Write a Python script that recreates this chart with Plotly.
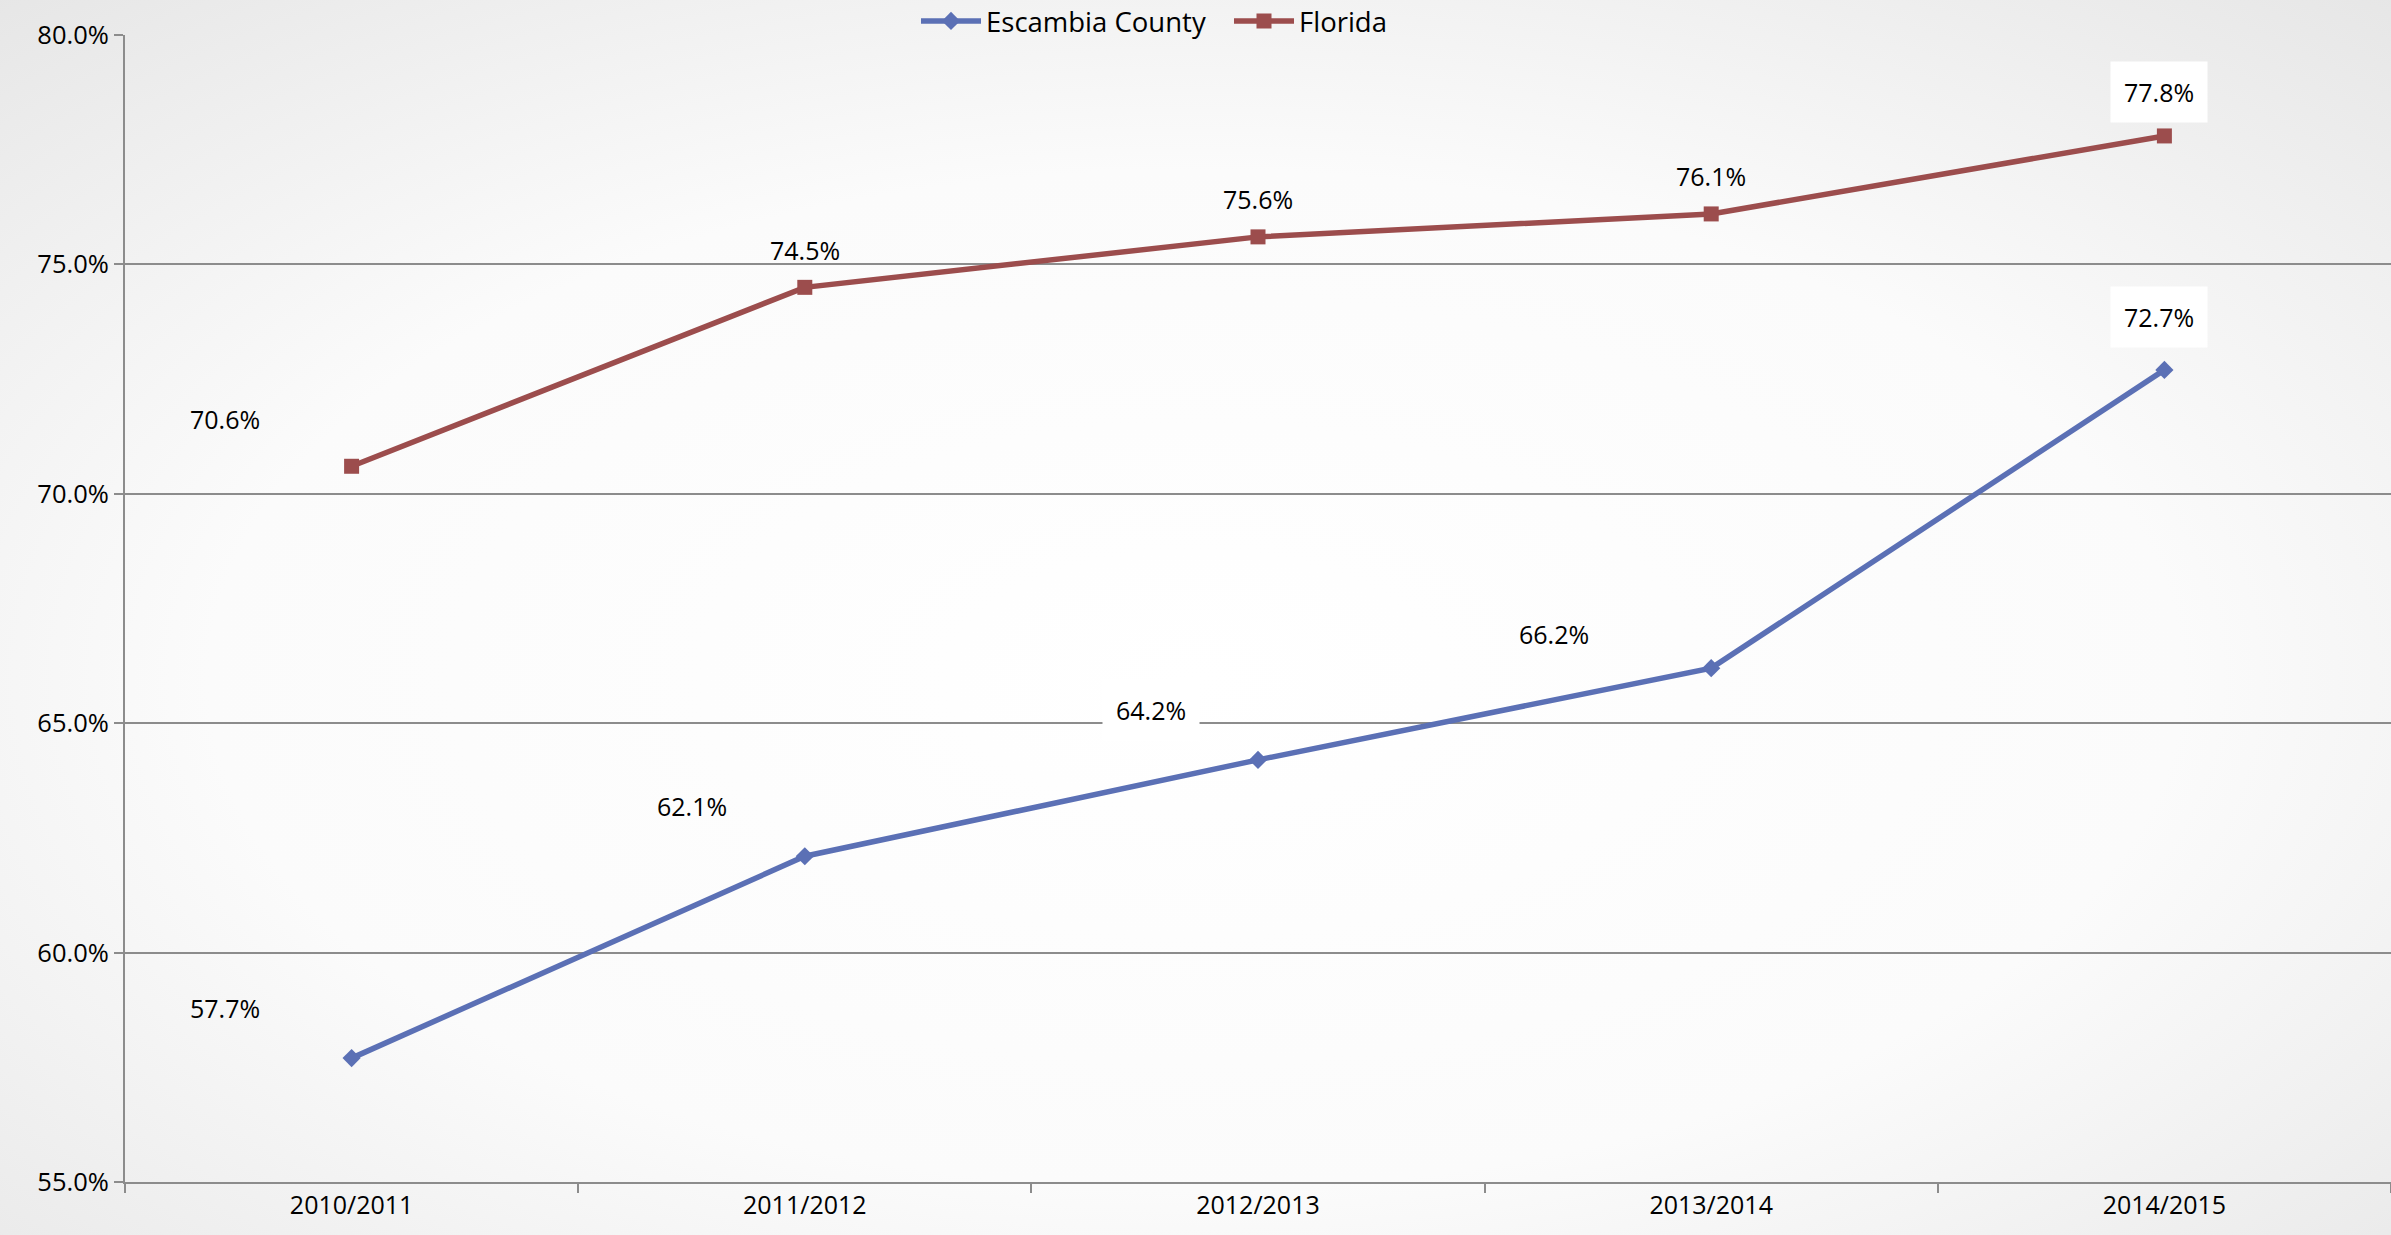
import base64
import plotly.graph_objects as go

# ---- data ----
years = ["2010/2011", "2011/2012", "2012/2013", "2013/2014", "2014/2015"]
escambia = [57.7, 62.1, 64.2, 66.2, 72.7]
florida = [70.6, 74.5, 75.6, 76.1, 77.8]
y_ticks = [55, 60, 65, 70, 75, 80]

# ---- label placement (pixels offsets) ----
esc_dx = [-127, -113, -107, -157, -5]
esc_dy = [50, 50, 50, 34, 53]
esc_box = [False, False, True, False, True]
fla_dx = [-127, 0, 0, 0, -5]
fla_dy = [47, 37, 38, 38, 44]
fla_box = [False, False, False, False, True]

BLUE = "#5B70B5"
RED = "#9C4D4D"
FONT = "Open Sans, Noto Sans, sans-serif"

W, H = 2391, 1235
ML, MR, MT, MB = 125, 0, 35, 53
pw, ph = W - ML - MR, H - MT - MB

svg = f'''<svg xmlns="http://www.w3.org/2000/svg" width="{W}" height="{H}" viewBox="0 0 {W} {H}" preserveAspectRatio="none">
<defs><radialGradient id="g" cx="0.5" cy="0.55" r="0.75" gradientUnits="objectBoundingBox">
<stop offset="0" stop-color="#ffffff"/><stop offset="0.55" stop-color="#fbfbfb"/><stop offset="1" stop-color="#e6e6e6"/>
</radialGradient></defs><rect width="{W}" height="{H}" fill="url(#g)"/></svg>'''
bg_uri = "data:image/svg+xml;base64," + base64.b64encode(svg.encode()).decode()

fig = go.Figure()
fig.add_trace(go.Scatter(
    x=years, y=escambia, name="Escambia County", mode="lines+markers",
    line=dict(color=BLUE, width=5.5), marker=dict(symbol="diamond", size=14, color=BLUE),
    legend="legend",
))
fig.add_trace(go.Scatter(
    x=years, y=florida, name="Florida", mode="lines+markers",
    line=dict(color=RED, width=5.5), marker=dict(symbol="square", size=15, color=RED),
    legend="legend2",
))

for series, dxs, dys, boxes in [(escambia, esc_dx, esc_dy, esc_box), (florida, fla_dx, fla_dy, fla_box)]:
    for xv, yv, dx, dy, box in zip(years, series, dxs, dys, boxes):
        fig.add_annotation(
            x=xv, y=yv, text=f"{yv:.1f}%", showarrow=False,
            xshift=dx, yshift=dy,
            font=dict(family=FONT, size=25, color="#000000"),
            bgcolor="#ffffff" if box else "rgba(0,0,0,0)",
            borderpad=13 if box else 0,
        )

leg_common = dict(
    orientation="h", xanchor="left", y=1 + (MT - 21) / ph, yanchor="middle",
    font=dict(family=FONT, size=27.5), bgcolor="rgba(0,0,0,0)",
    itemwidth=60, tracegroupgap=0,
)

fig.update_layout(
    width=W, height=H,
    margin=dict(l=ML, r=MR, t=MT, b=MB, autoexpand=False),
    paper_bgcolor="#f7f7f7",
    plot_bgcolor="rgba(0,0,0,0)",
    font=dict(family=FONT, size=25, color="#000000"),
    images=[dict(
        source=bg_uri, xref="paper", yref="paper",
        x=-ML / pw, y=1 + MT / ph, sizex=W / pw, sizey=H / ph,
        xanchor="left", yanchor="top", sizing="stretch", layer="below",
    )],
    legend=dict(x=(916 - ML) / pw, **leg_common),
    legend2=dict(x=(1229 - ML) / pw, **leg_common),
    showlegend=True,
)

fig.update_xaxes(
    type="category", tickson="boundaries", ticks="outside", ticklen=9,
    tickcolor="#8c8c8c", tickwidth=2, showline=True, linecolor="#8c8c8c", linewidth=2,
    showgrid=False, tickfont=dict(size=25), range=[-0.5, 4.5], automargin=False,
)
fig.update_yaxes(
    range=[55, 80], tickvals=y_ticks, ticktext=[f"{v:.1f}%" for v in y_ticks],
    ticks="outside", ticklen=9, tickcolor="#8c8c8c", tickwidth=2,
    showline=True, linecolor="#8c8c8c", linewidth=2,
    showgrid=True, gridcolor="#8c8c8c", gridwidth=2, zeroline=False,
    tickfont=dict(size=25.5), automargin=False,
)

fig.write_html(
    "out.html",
    config={"displayModeBar": False},
    post_script="document.body.style.margin='0';document.body.style.overflow='hidden';",
)
